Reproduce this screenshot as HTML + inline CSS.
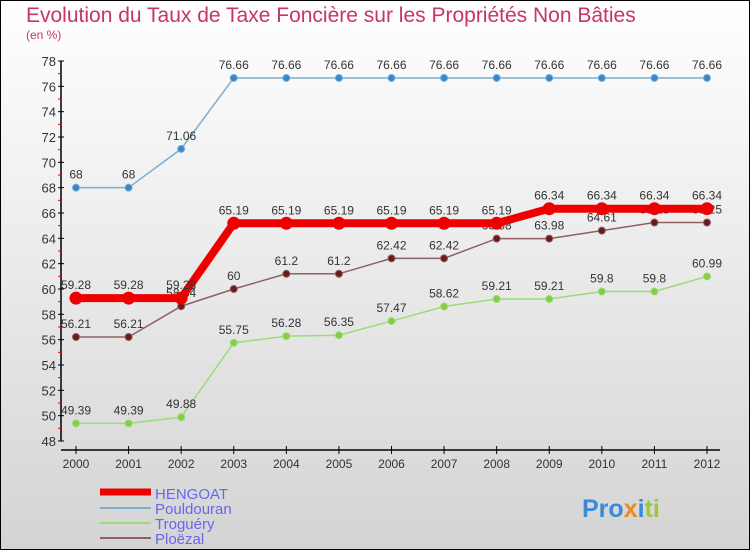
<!DOCTYPE html>
<html><head><meta charset="utf-8"><style>
body{margin:0}
svg{display:block;font-family:"Liberation Sans",sans-serif}
</style></head><body>
<svg id="c" width="750" height="550">
<defs><linearGradient id="bg" x1="0" y1="0" x2="0" y2="1"><stop offset="0" stop-color="#ffffff"/><stop offset="1" stop-color="#d4d4d4"/></linearGradient></defs>
<rect x="0.5" y="0.5" width="749" height="549" fill="url(#bg)" stroke="#000"/>
<text x="26" y="22" font-size="21" fill="#c8365f">Evolution du Taux de Taxe Foncière sur les Propriétés Non Bâties</text>
<text x="26" y="39" font-size="12" fill="#c8365f">(en %)</text>
<g id="axes"></g><g id="series"></g>
<g>
<line x1="100" y1="492" x2="151" y2="492" stroke="#ee0000" stroke-width="7"/>
<text x="155" y="499" font-size="15" fill="#6666ee">HENGOAT</text>
<line x1="100" y1="508" x2="151" y2="508" stroke="#7aaed0" stroke-width="2"/>
<text x="155" y="514" font-size="15" fill="#6666ee">Pouldouran</text>
<line x1="100" y1="523" x2="151" y2="523" stroke="#99dd77" stroke-width="2"/>
<text x="155" y="529" font-size="15" fill="#6666ee">Troguéry</text>
<line x1="100" y1="538" x2="151" y2="538" stroke="#906060" stroke-width="2"/>
<text x="155" y="544" font-size="15" fill="#6666ee">Ploëzal</text>
</g>
<text x="582" y="517" font-size="25" font-weight="bold"><tspan fill="#3a8ad8">Pro</tspan><tspan fill="#f08a1a">x</tspan><tspan fill="#3a8ad8">i</tspan><tspan fill="#99cc33">ti</tspan></text>
</svg>
<script>
const years=[2000,2001,2002,2003,2004,2005,2006,2007,2008,2009,2010,2011,2012];
const hengoat=[59.28,59.28,59.28,65.19,65.19,65.19,65.19,65.19,65.19,66.34,66.34,66.34,66.34];
const pouldouran=[68,68,71.06,76.66,76.66,76.66,76.66,76.66,76.66,76.66,76.66,76.66,76.66];
const troguery=[49.39,49.39,49.88,55.75,56.28,56.35,57.47,58.62,59.21,59.21,59.8,59.8,60.99];
const ploezal=[56.21,56.21,58.64,60,61.2,61.2,62.42,62.42,63.98,63.98,64.61,65.25,65.25];
const yTicks=[48,50,52,54,56,58,60,62,64,66,68,70,72,74,76,78];
const NS="http://www.w3.org/2000/svg";
const X=i=>76+i*(707-76)/(years.length-1);
const Y=v=>441-(v-48)*(380/30);
function mk(t,a,p){const e=document.createElementNS(NS,t);for(const k in a)e.setAttribute(k,a[k]);p.appendChild(e);return e;}
const ax=document.getElementById('axes');
let l=mk('line',{x1:61,y1:61,x2:61,y2:441,stroke:'#000','stroke-width':1.5},ax);


l=mk('line',{x1:61,y1:450,x2:720,y2:450,stroke:'#000','stroke-width':1.5},ax);


yTicks.forEach((v,i)=>{
  mk('line',{x1:58,y1:Y(v),x2:64,y2:Y(v),stroke:'#000'},ax);
  if(i<yTicks.length-1) mk('line',{x1:58,y1:Y(v+1),x2:61,y2:Y(v+1),stroke:'#e00'},ax);
  const t=mk('text',{x:56,y:Y(v)+5,'font-size':13,fill:'#333','text-anchor':'end'},ax);t.textContent=v;
  
  
});
years.forEach((y,i)=>{
  mk('line',{x1:X(i),y1:446,x2:X(i),y2:454,stroke:'#000'},ax);
  const t=mk('text',{x:X(i),y:468,'font-size':12,fill:'#333','text-anchor':'middle'},ax);t.textContent=y;
  
  
});
const sg=document.getElementById('series');
function series(name,vals,color,w,r,dot){
  const g=mk('g',{},sg);
  
  
  mk('polyline',{points:vals.map((v,i)=>X(i)+','+Y(v)).join(' '),fill:'none',stroke:color,'stroke-width':w},g);
  vals.forEach((v,i)=>{
    const c=mk('circle',{cx:X(i),cy:Y(v),r:r,fill:dot,stroke:color},g);
    
    
    const t=mk('text',{x:X(i),y:Y(v)-9,'font-size':12,fill:'#333','text-anchor':'middle'},g);t.textContent=v;
    
    
  });
}
series('troguery',troguery,'#99dd77',1.5,3.5,'#88cc44');
series('ploezal',ploezal,'#906060',1.5,3.5,'#6b1a1a');
series('pouldouran',pouldouran,'#7aaed0',1.5,3.5,'#3a86c8');
series('hengoat',hengoat,'#ee0000',8,6,'#ee0000');
</script>
</body></html>
